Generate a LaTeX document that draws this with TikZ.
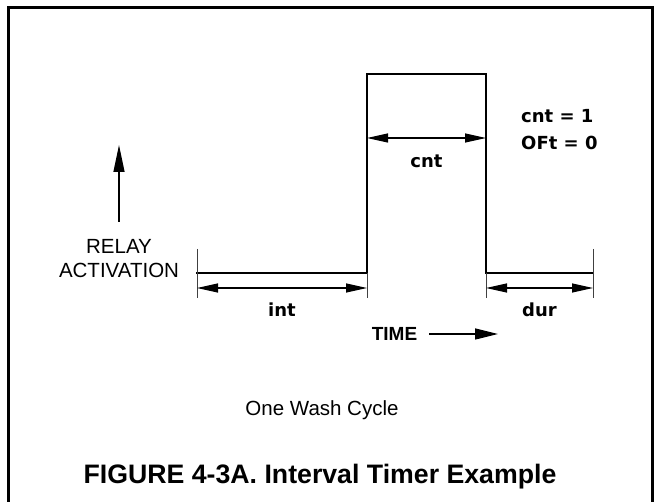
\documentclass[tikz,border=0pt]{standalone}
\usepackage{fontspec}
\setmainfont{Liberation Sans}
\newfontfamily\ledfont{DejaVu Sans}
\usetikzlibrary{positioning,arrows.meta}

\begin{document}
\begin{tikzpicture}[x=1pt,y=-1pt,
pulse/.style={line width=2.6pt,line join=miter,line cap=rect},
dim/.style={line width=1.2pt,{Triangle[length=21pt,width=9pt]}-{Triangle[length=21pt,width=9pt]}},
ext/.style={line width=0.9pt,black!75},
led/.style={font=\ledfont\bfseries\fontsize{18}{27}\selectfont,inner sep=0pt},
lbl/.style={font=\fontsize{20.5}{24}\selectfont,align=center,inner sep=0pt}]
\useasboundingbox (0,0) rectangle (657,502);
% frame, open at the bottom
\draw[line width=2.5pt] (8.5,515) -- (8.5,7.5) -- (652.5,7.5) -- (652.5,515);

% the relay pulse
\coordinate (p0) at (197,273);
\coordinate (p1) at (367,273);
\coordinate (p2) at (367,74);
\coordinate (p3) at (486,74);
\coordinate (p4) at (486,273);
\coordinate (p5) at (593,273);
\draw[pulse] (p0) -- (p1) -- (p2) -- (p3) -- (p4) -- (p5);

% extension lines
\draw[ext] ([yshift=24pt]p0) -- ([yshift=-25pt]p0);
\draw[ext] (p1) -- ([yshift=-25pt]p1);
\draw[ext] (p4) -- ([yshift=-25pt]p4);
\draw[ext] ([yshift=24pt]p5) -- ([yshift=-25pt]p5);

% dimensions
\draw[dim] ([yshift=-15pt]p0) -- ([yshift=-15pt]p1)
    node (intlbl) [led,midway,below=14pt] {int};
\draw[dim] ([yshift=-15pt]p4) -- ([yshift=-15pt]p5)
    node (durlbl) [led,midway,below=14pt] {dur};
\draw[dim] ([yshift=-64pt]p2) -- ([yshift=-64pt]p3)
    node (cntlbl) [led,midway,below=16pt] {cnt};

\node (settings) [led,align=left,anchor=west] at (521,130) {cnt = 1\\OFt = 0};

% axis labels
\node (relay) [lbl] at (119,259) {RELAY\\ACTIVATION};
\coordinate (up) at (119,145);
\draw[line width=1.3pt,-{Triangle[length=27pt,width=11pt]}] ([yshift=18pt]relay.north) -- (up);

\node (time) [lbl,font=\bfseries\fontsize{19}{22}\selectfont] at (394.5,334) {TIME};
\coordinate (timeend) at (498,334);
\draw[line width=1.3pt,-{Triangle[length=23pt,width=11pt]}] ([xshift=12pt]time.east) -- (timeend);

\node (cycle) [lbl,anchor=base] at (322,415.7) {One Wash Cycle};
\node (title) [lbl,font=\bfseries\fontsize{26.7}{30}\selectfont,anchor=base] at (320,483.3) {FIGURE 4-3A. Interval Timer Example};
\end{tikzpicture}
\end{document}
